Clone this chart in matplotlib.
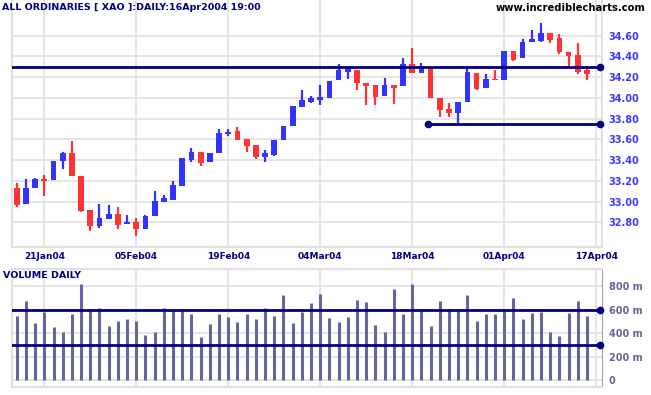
import matplotlib
matplotlib.use("Agg")
import matplotlib.pyplot as plt
import numpy as np

# daily OHLC, XAO 16 Jan 2004 .. 16 Apr 2004 (63 trading days)
opens = [33.13, 32.98, 33.13, 33.22, 33.21, 33.39, 33.47, 33.25, 32.92, 32.76,
         32.83, 32.88, 32.78, 32.80, 32.74, 32.86, 33.00, 33.02, 33.15, 33.40,
         33.48, 33.38, 33.47, 33.65, 33.68, 33.60, 33.55, 33.43, 33.45, 33.59,
         33.73, 33.91, 33.96, 33.98, 34.00, 34.17, 34.25, 34.27, 34.14, 34.12,
         34.02, 34.12, 34.11, 34.33, 34.24, 34.30, 34.00, 33.89, 33.85, 33.96,
         34.24, 34.10, 34.18, 34.17, 34.45, 34.38, 34.54, 34.55, 34.63, 34.58,
         34.44, 34.41, 34.27]
highs = [33.18, 33.22, 33.23, 33.26, 33.39, 33.48, 33.58, 33.25, 32.92, 32.98,
         32.97, 32.95, 32.87, 32.84, 32.87, 33.10, 33.06, 33.20, 33.42, 33.52,
         33.48, 33.47, 33.70, 33.70, 33.72, 33.60, 33.55, 33.50, 33.59, 33.73,
         33.92, 34.08, 34.02, 34.12, 34.16, 34.33, 34.31, 34.27, 34.14, 34.12,
         34.19, 34.12, 34.38, 34.48, 34.34, 34.30, 34.00, 33.95, 33.96, 34.31,
         34.24, 34.23, 34.27, 34.45, 34.45, 34.57, 34.65, 34.72, 34.63, 34.62,
         34.44, 34.53, 34.31]
lows = [32.95, 32.98, 33.13, 33.05, 33.21, 33.31, 33.25, 32.90, 32.72, 32.75,
        32.83, 32.74, 32.78, 32.67, 32.74, 32.86, 33.00, 33.02, 33.15, 33.38,
        33.34, 33.38, 33.47, 33.63, 33.59, 33.48, 33.41, 33.38, 33.44, 33.59,
        33.73, 33.91, 33.95, 33.93, 34.00, 34.17, 34.18, 34.08, 33.93, 33.93,
        34.02, 33.94, 34.11, 34.24, 34.24, 34.00, 33.82, 33.82, 33.75, 33.96,
        34.08, 34.10, 34.17, 34.17, 34.36, 34.38, 34.54, 34.54, 34.53, 34.42,
        34.29, 34.23, 34.17]
closes = [32.97, 33.13, 33.22, 33.20, 33.39, 33.47, 33.25, 32.91, 32.76, 32.84,
          32.88, 32.77, 32.80, 32.74, 32.86, 33.01, 33.03, 33.16, 33.42, 33.48,
          33.37, 33.47, 33.66, 33.67, 33.59, 33.54, 33.43, 33.47, 33.59, 33.73,
          33.92, 33.98, 34.00, 34.01, 34.16, 34.27, 34.28, 34.14, 34.11, 34.01,
          34.12, 34.10, 34.33, 34.24, 34.31, 34.00, 33.88, 33.85, 33.96, 34.25,
          34.09, 34.18, 34.17, 34.45, 34.37, 34.54, 34.57, 34.63, 34.56, 34.44,
          34.40, 34.25, 34.23]
# volume, millions
volumes = [545, 672, 488, 579, 451, 409, 562, 817, 604, 613,
           460, 502, 519, 502, 383, 409, 613, 596, 604, 562,
           366, 477, 562, 536, 494, 562, 519, 613, 545, 723,
           488, 579, 655, 732, 528, 494, 536, 681, 664, 468,
           409, 775, 562, 817, 604, 460, 672, 604, 587, 723,
           502, 562, 562, 596, 698, 519, 570, 579, 409, 374,
           570, 672, 545]

date_ticks = [3, 13, 23, 33, 43, 53, 63]
date_labels = ["21Jan04", "05Feb04", "19Feb04", "04Mar04", "18Mar04", "01Apr04", "17Apr04"]
price_ticks = [32.80, 33.00, 33.20, 33.40, 33.60, 33.80, 34.00, 34.20, 34.40, 34.60]
vol_ticks = [0, 200, 400, 600, 800]

resistance = 34.30
support = 33.75
vol_lines = [600, 300]

NAVY = "#000080"
UP = "#3333ff"
DOWN = "#ff3333"
GRID = "#e0e0e0"

W, H = 651, 395
fig = plt.figure(figsize=(W / 100, H / 100), dpi=100)

def frac(x0, y0, x1, y1):
    return [x0 / W, 1 - y1 / H, (x1 - x0) / W, (y1 - y0) / H]

ax = fig.add_axes(frac(12.3, 0, 601.7, 246.7))
vax = fig.add_axes(frac(12.3, 269, 601.7, 386.7))

x = np.arange(len(opens))
o = np.array(opens)
c = np.array(closes)
cols = [UP if cc >= oo else DOWN for oo, cc in zip(o, c)]

ax.vlines(x, lows, highs, colors=cols, linewidth=1.6, zorder=3)
body = np.maximum(np.abs(c - o), 0.012)
ax.bar(x, body, bottom=np.minimum(o, c), width=0.62, color=cols, linewidth=0, zorder=3)

xl = (-0.48, 63.6)
ax.set_xlim(*xl)
ax.set_ylim(32.565, 34.944)

ax.plot([xl[0], 63.4], [resistance] * 2, color=NAVY, lw=2, zorder=4)
ax.plot([63.4], [resistance], "o", color=NAVY, ms=4.5, zorder=4, clip_on=False)
ax.plot([44.7, 63.4], [support] * 2, color=NAVY, lw=2, zorder=4,
        marker="o", ms=4.5, clip_on=False)

ax.set_yticks(price_ticks)
ax.set_yticklabels([f"{p:.2f}" for p in price_ticks])
ax.yaxis.tick_right()
ax.tick_params(axis="y", length=0, pad=5, labelsize=7, labelcolor="#3a3aff")
ax.set_xticks(date_ticks)
ax.set_xticklabels(date_labels)
ax.tick_params(axis="x", length=0, pad=4, labelsize=6.5, labelcolor=NAVY)
for lab in ax.get_xticklabels() + ax.get_yticklabels():
    lab.set_fontweight("bold")
ax.grid(True, color=GRID, linewidth=1.2, zorder=0)
ax.set_axisbelow(True)
for side in ["top"]:
    ax.spines[side].set_visible(False)
for side in ["left", "bottom", "right"]:
    ax.spines[side].set_color(GRID)
    ax.spines[side].set_linewidth(1.5)

# volume panel
vax.vlines(x, 0, volumes, colors="#66669e", linewidth=2.2, zorder=3)
vax.set_xlim(*xl)
vax.set_ylim(-57, 945)
for v in vol_lines:
    vax.plot([xl[0], 63.4], [v, v], color=NAVY, lw=2, zorder=4)
    vax.plot([63.4], [v], "o", color=NAVY, ms=4.5, zorder=4, clip_on=False)
vax.set_yticks(vol_ticks)
vax.set_yticklabels(["0", "200 m", "400 m", "600 m", "800 m"])
vax.yaxis.tick_right()
vax.tick_params(axis="y", length=0, pad=5, labelsize=7, labelcolor="#666699")
for lab in vax.get_yticklabels():
    lab.set_fontweight("bold")
vax.set_xticks(date_ticks)
vax.tick_params(axis="x", length=0, labelbottom=False)
vax.grid(True, color=GRID, linewidth=1.2, zorder=0)
vax.set_axisbelow(True)
for side in ["left", "bottom", "top"]:
    vax.spines[side].set_color(GRID)
    vax.spines[side].set_linewidth(1.5)
vax.spines["right"].set_color("#a0a0a0")

fig.text(2 / W, 1 - 8 / H, "ALL ORDINARIES [ XAO ]:DAILY:16Apr2004 19:00",
         fontsize=6.8, fontweight="bold", color=NAVY, va="center", ha="left")
fig.text(646 / W, 1 - 8 / H, "www.incrediblecharts.com",
         fontsize=7.2, fontweight="bold", color="black", va="center", ha="right")
fig.text(3 / W, 1 - 276 / H, "VOLUME DAILY",
         fontsize=6.8, fontweight="bold", color=NAVY, va="center", ha="left")

fig.savefig("out.png", dpi=100, facecolor="white")
